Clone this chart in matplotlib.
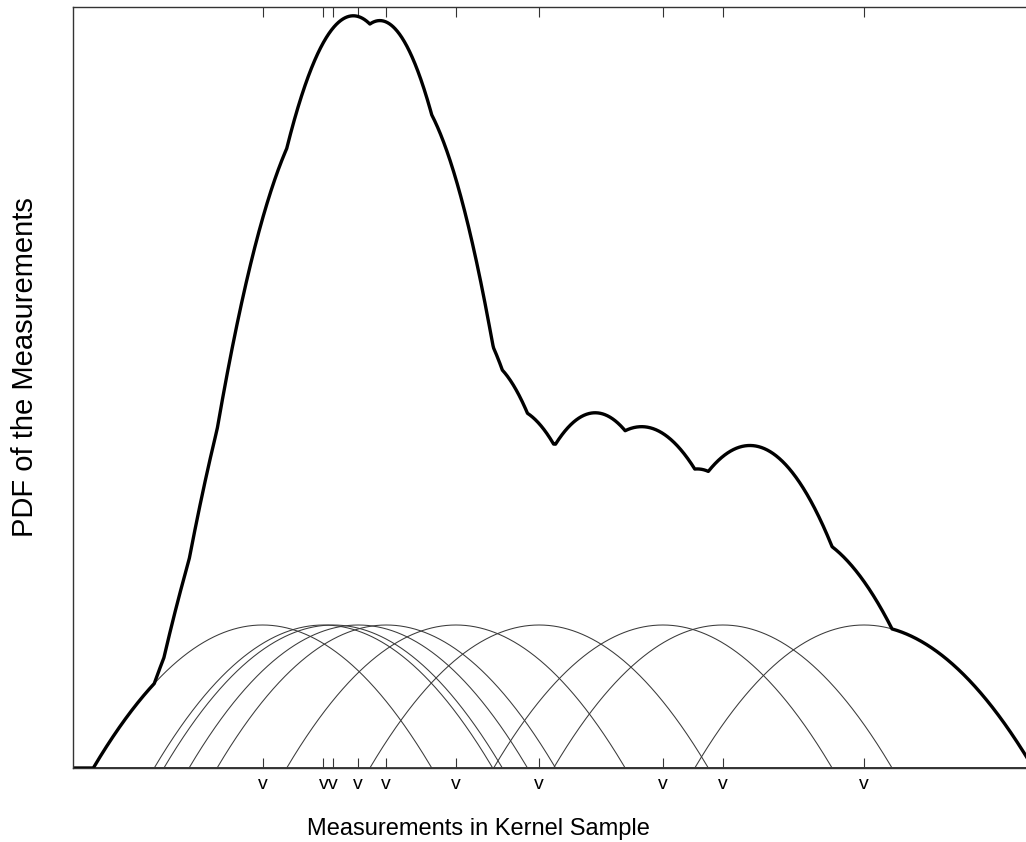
import matplotlib.pyplot as plt
import numpy as np

plt.rcParams['font.family'] = ['Liberation Sans', 'DejaVu Sans']

# sample measurements (arbitrary units) and Epanechnikov bandwidth
samples = [19.6, 25.9, 26.9, 29.5, 32.4, 39.6, 48.2, 61.0, 67.2, 81.8]
bandwidth = 17.5
tick_labels = ['v'] * len(samples)

x = np.linspace(0, 100, 3001)
n = len(samples)


def kernel(xs, c, h):
    u = (xs - c) / h
    return np.where(np.abs(u) < 1, 0.75 * (1 - u ** 2), 0.0) / (n * h)


parts = [kernel(x, c, bandwidth) for c in samples]
pdf = np.sum(parts, axis=0)

fig = plt.figure(figsize=(10.26, 8.42), dpi=100)
ax = fig.add_axes([73 / 1026, 74 / 842, 967 / 1026, 761.5 / 842])

for p in parts:
    ax.plot(x, p, color='#3a3a3a', lw=0.75)
ax.plot(x, pdf, color='black', lw=2.4)

ax.set_xlim(0, 100)
peak = 0.75 / (n * bandwidth)
ax.set_ylim(0, peak * 761.5 / 143)

ax.set_xticks(samples, tick_labels)
ax.set_yticks([])
ax.tick_params(axis='x', direction='in', top=True, length=7.2, width=0.8,
               color='#333333', labelsize=14, pad=5.5)
for s in ['left', 'top', 'bottom']:
    ax.spines[s].set_color('#333333')
    ax.spines[s].set_linewidth(1.0)
ax.spines['right'].set_visible(False)

ax.set_xlabel("Measurements in Kernel Sample", fontsize=17)
ax.xaxis.set_label_coords(0.419, -0.088)
ax.xaxis.label.set_va('baseline')
ax.set_ylabel("PDF of the Measurements", fontsize=21)
ax.yaxis.set_label_coords(-0.035, 0.527)

plt.savefig("out.png", dpi=100)
plt.close()
